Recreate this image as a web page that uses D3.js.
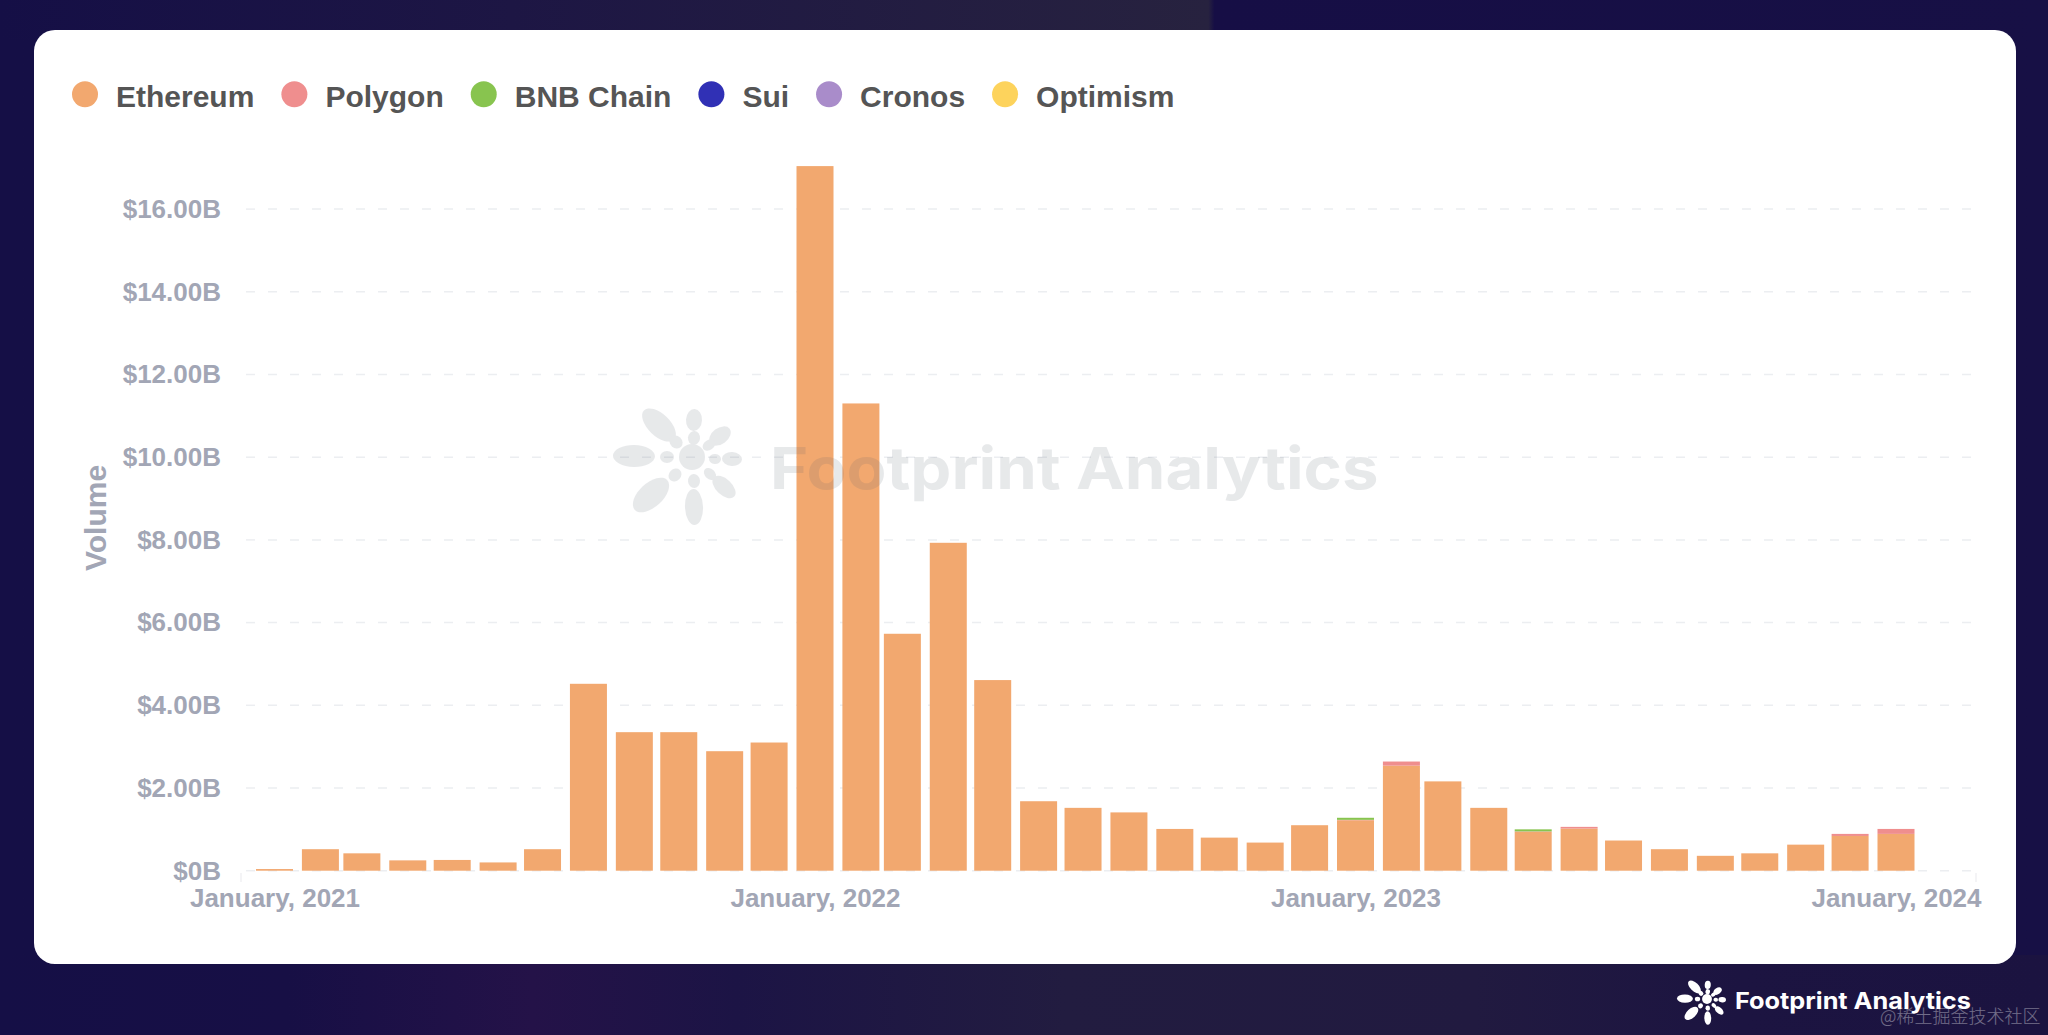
<!DOCTYPE html>
<html>
<head>
<meta charset="utf-8">
<script src="https://cdn.jsdelivr.net/npm/d3@7"></script>
<style>
  html, body { margin: 0; padding: 0; background: #17104a; }
  svg { display: block; }
  text { font-family: "Liberation Sans", Arial, sans-serif; }
</style>
</head>
<body>
<div id="chart"></div>
<script>
const months = [
  '2021-01','2021-02','2021-03','2021-04','2021-05','2021-06','2021-07','2021-08','2021-09','2021-10','2021-11','2021-12',
  '2022-01','2022-02','2022-03','2022-04','2022-05','2022-06','2022-07','2022-08','2022-09','2022-10','2022-11','2022-12',
  '2023-01','2023-02','2023-03','2023-04','2023-05','2023-06','2023-07','2023-08','2023-09','2023-10','2023-11','2023-12',
  '2024-01'
];

// values in $B
const ethereum = [
  0.04, 0.52, 0.42, 0.25, 0.26, 0.20, 0.52, 4.52, 3.35, 3.35, 2.89, 3.10,
  17.04, 11.30, 5.73, 7.93, 4.61, 1.68, 1.52, 1.41, 1.01, 0.80, 0.68, 1.10,
  1.22, 2.54, 2.16, 1.52, 0.94, 1.02, 0.73, 0.52, 0.36, 0.42, 0.63, 0.84,
  0.89
];
const polygon = [
  0, 0, 0, 0, 0, 0, 0, 0, 0, 0, 0, 0,
  0, 0, 0, 0, 0, 0, 0, 0, 0, 0, 0, 0,
  0.01, 0.10, 0, 0, 0.01, 0.04, 0, 0, 0, 0, 0, 0.05,
  0.12
];
const bnbChain = [
  0, 0, 0, 0, 0, 0, 0, 0, 0, 0, 0, 0,
  0, 0, 0, 0, 0, 0, 0, 0, 0, 0, 0, 0,
  0.05, 0, 0, 0, 0.05, 0, 0, 0, 0, 0, 0, 0,
  0
];
const sui = months.map(() => 0);
const cronos = months.map(() => 0);
const optimism = months.map(() => 0);

const seriesNames = ['Ethereum', 'Polygon', 'BNB Chain', 'Sui', 'Cronos', 'Optimism'];
const seriesValues = [ethereum, polygon, bnbChain, sui, cronos, optimism];
const seriesColors = ['#f2a86f', '#ef8e8e', '#88c44f', '#3030b5', '#a98cca', '#fdd35c'];

const yTicks = [0, 2, 4, 6, 8, 10, 12, 14, 16];
const xTicks = ['2021-01', '2022-01', '2023-01', '2024-01'];

const width = 2048;
const height = 1035;
const parseMonth = d3.utcParse('%Y-%m');

const svg = d3.select('#chart').append('svg')
  .attr('width', width)
  .attr('height', height)
  .attr('viewBox', `0 0 ${width} ${height}`);

// backdrop
const defs = svg.append('defs');
function hGradient(id, stops) {
  const g = defs.append('linearGradient').attr('id', id);
  stops.forEach(s => g.append('stop').attr('offset', s[0]).attr('stop-color', s[1]));
}
hGradient('bg', [[0, '#150f46'], [1, '#171045']]);
// top strip stops hard where the lighter shape ends in the photo
hGradient('topStrip', [[0, '#150f46'], [0.25, '#1d1644'], [0.59, '#27223f'], [0.593, '#160e45'], [1, '#171045']]);
hGradient('bottomStrip', [[0, '#150f46'], [0.14, '#170f45'], [0.26, '#241248'], [0.36, '#1c1445'], [0.52, '#221c40'], [0.72, '#211a40'], [0.85, '#1c1441'], [1, '#1b1340']]);

svg.append('rect').attr('width', width).attr('height', height).attr('fill', 'url(#bg)');
svg.append('rect').attr('width', width).attr('height', 40).attr('fill', 'url(#topStrip)');
svg.append('rect').attr('y', 955).attr('width', width).attr('height', 80).attr('fill', 'url(#bottomStrip)');

// card
svg.append('rect')
  .attr('x', 34).attr('y', 30).attr('width', 1982).attr('height', 934).attr('rx', 21)
  .attr('fill', '#fff');

// scales
const x = d3.scaleUtc()
  .domain([parseMonth(months[0]), parseMonth(months[months.length - 1])])
  .range([274.5, 1896]);
const y = d3.scaleLinear().domain([0, 18]).range([870.7, 126.4]);
const barWidth = 37;

// grid
svg.append('g').selectAll('line')
  .data(yTicks)
  .join('line')
  .attr('x1', 246).attr('x2', 1976)
  .attr('y1', d => y(d)).attr('y2', d => y(d))
  .attr('stroke', '#eceef1')
  .attr('stroke-width', 1.5)
  .attr('stroke-dasharray', '9 13');

// small end ticks of the x axis
svg.append('g').selectAll('line')
  .data([241, 1976])
  .join('line')
  .attr('x1', d => d).attr('x2', d => d)
  .attr('y1', 873).attr('y2', 882)
  .attr('stroke', '#f0f1f3')
  .attr('stroke-width', 1.5);

// stacked bars
const table = months.map((m, i) => {
  const row = { month: parseMonth(m) };
  seriesNames.forEach((name, j) => { row[name] = seriesValues[j][i]; });
  return row;
});
const stacked = d3.stack().keys(seriesNames)(table);

svg.append('g').selectAll('g')
  .data(stacked)
  .join('g')
  .attr('fill', (d, i) => seriesColors[i])
  .selectAll('rect')
  .data(d => d)
  .join('rect')
  .attr('x', d => x(d.data.month) - barWidth / 2)
  .attr('width', barWidth)
  .attr('y', d => y(d[1]))
  .attr('height', d => y(d[0]) - y(d[1]));

// axes
const yAxis = d3.axisLeft(y)
  .tickValues(yTicks)
  .tickSize(0)
  .tickPadding(0)
  .tickFormat(d => d === 0 ? '$0B' : `$${d.toFixed(2)}B`);
const yG = svg.append('g').attr('transform', 'translate(221,0)').call(yAxis);
yG.select('.domain').remove();
yG.selectAll('text')
  .attr('font-family', '"Liberation Sans", Arial, sans-serif')
  .attr('font-size', 26).attr('font-weight', 700).attr('fill', '#a2a6b5');

const xAxis = d3.axisBottom(x)
  .tickValues(xTicks.map(parseMonth))
  .tickSize(0)
  .tickPadding(18)
  .tickFormat(d3.utcFormat('%B, %Y'));
const xG = svg.append('g').attr('transform', 'translate(0,870.7)').call(xAxis);
xG.select('.domain').remove();
xG.selectAll('text')
  .attr('font-family', '"Liberation Sans", Arial, sans-serif')
  .attr('font-size', 26).attr('font-weight', 700).attr('fill', '#a2a6b5');

svg.append('text')
  .attr('transform', 'translate(106,518) rotate(-90)')
  .attr('text-anchor', 'middle')
  .attr('font-size', 30).attr('font-weight', 700)
  .attr('fill', '#a2a6b5')
  .text('Volume');

// legend
let legendX = 72;
seriesNames.forEach((name, i) => {
  svg.append('circle')
    .attr('cx', legendX + 13).attr('cy', 94.3).attr('r', 13)
    .attr('fill', seriesColors[i]);
  const label = svg.append('text')
    .attr('x', legendX + 44).attr('y', 106.7)
    .attr('font-size', 30).attr('font-weight', 700)
    .attr('fill', '#555555')
    .text(name);
  legendX += 44 + label.node().getComputedTextLength() + 27;
});

// logo: [x, y, half length, half width] around its centre
const logoPetals = [
  [-58, -1, 21, 11], [-33, -32, 21, 11], [2, -37, 11, 8], [28, -21, 12, 8],
  [40, 2, 10, 7], [32, 30, 14, 8], [2, 50, 18, 9], [-41, 38, 22, 12],
  [-16, -15, 7, 6], [2, -19, 7, 6], [17, -12, 7, 5], [23, 2, 6, 5],
  [18, 17, 7, 5], [2, 24, 7, 6], [-17, 18, 7, 6], [-25, 0, 7, 6]
];
function drawLogo(cx, cy, k, fill, opacity) {
  const g = svg.append('g')
    .attr('transform', `translate(${cx},${cy}) scale(${k})`)
    .attr('fill', fill).attr('opacity', opacity);
  g.selectAll('ellipse')
    .data(logoPetals)
    .join('ellipse')
    .attr('rx', d => d[2]).attr('ry', d => d[3])
    .attr('transform', d => `translate(${d[0]},${d[1]}) rotate(${Math.atan2(d[1], d[0]) * 180 / Math.PI})`);
  g.append('circle').attr('r', 13);
}

// watermark over the chart, the brand lettering is wider than Inter
drawLogo(692, 457, 1, '#4f5a68', 0.13);
svg.append('text')
  .attr('transform', 'translate(770,489) scale(1.125,1)')
  .attr('font-size', 58).attr('font-weight', 700)
  .style('font-family', 'Inter, "Liberation Sans", sans-serif')
  .attr('fill', '#4f5a68').attr('opacity', 0.13)
  .text('Footprint Analytics');

// footer brand
drawLogo(1707, 999, 0.38, '#ffffff', 1);
svg.append('text')
  .attr('transform', 'translate(1735,1009) scale(1.1,1)')
  .attr('font-size', 23).attr('font-weight', 700)
  .style('font-family', 'Inter, "Liberation Sans", sans-serif')
  .attr('fill', '#ffffff')
  .text('Footprint Analytics');
svg.append('text')
  .attr('x', 1880).attr('y', 1023)
  .attr('font-size', 18).attr('font-weight', 300)
  .style('font-family', '"Noto Sans CJK SC", sans-serif')
  .attr('fill', '#ffffff').attr('opacity', 0.38)
  .text('@稀土掘金技术社区');
</script>
</body>
</html>
